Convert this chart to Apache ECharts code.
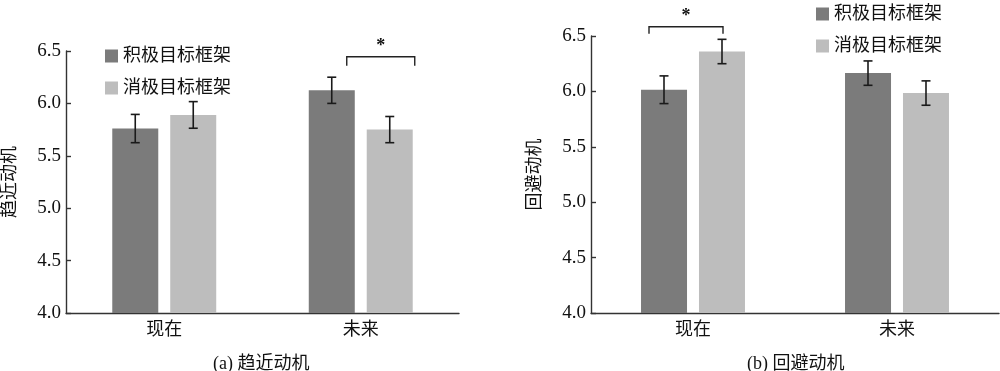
<!DOCTYPE html>
<html><head><meta charset="utf-8">
<script src="https://cdn.jsdelivr.net/npm/echarts@6/dist/echarts.min.js"></script>
<style>html,body{margin:0;padding:0;background:#fff}#c{width:1000px;height:371px}</style>
</head><body><div id="c"></div>
<script>
const categories = ['现在', '未来'];
const seriesNames = ['积极目标框架', '消极目标框架'];
const yTicks = [4.0, 4.5, 5.0, 5.5, 6.0, 6.5];
// (a) 趋近动机
const approachPos = [5.76, 6.125];
const approachPosErr = [0.135, 0.125];
const approachNeg = [5.89, 5.75];
const approachNegErr = [0.127, 0.125];
const approachSig = [[1, 6.445]];
// (b) 回避动机
const avoidPos = [6.015, 6.165];
const avoidPosErr = [0.125, 0.11];
const avoidNeg = [6.36, 5.985];
const avoidNegErr = [0.11, 0.11];
const avoidSig = [[0, 6.583]];

const DARK = '#7b7b7b', LIGHT = '#bdbdbd';
const SERIF = '"Liberation Serif", "Noto Sans CJK SC", serif';
const BAR_W = 46, BAR_OFF = 29;

const chart = echarts.init(document.getElementById('c'), null, {renderer: 'canvas'});

function errData(vals, errs, sign) {
  return vals.map((v, i) => [i, v, errs[i], sign]);
}
function errSeries(idx, vals, errs, sign) {
  return {
    type: 'custom', xAxisIndex: idx, yAxisIndex: idx, z: 5, silent: true,
    data: errData(vals, errs, sign), encode: {x: 0, y: 1},
    renderItem: (params, api) => {
      const c = api.value(0), v = api.value(1), e = api.value(2), s = api.value(3);
      const t = api.coord([c, v + e]), b = api.coord([c, v - e]);
      const x = t[0] + s * BAR_OFF;
      const st = {stroke: '#1a1a1a', lineWidth: 1.6};
      return {type: 'group', children: [
        {type: 'line', shape: {x1: x, y1: t[1], x2: x, y2: b[1]}, style: st},
        {type: 'line', shape: {x1: x - 4.5, y1: t[1], x2: x + 4.5, y2: t[1]}, style: st},
        {type: 'line', shape: {x1: x - 4.5, y1: b[1], x2: x + 4.5, y2: b[1]}, style: st}
      ]};
    }
  };
}
function sigSeries(idx, data, x0, x1, drop) {
  return {
    type: 'custom', xAxisIndex: idx, yAxisIndex: idx, z: 6, silent: true, clip: false,
    data: data, encode: {x: 0, y: 1},
    renderItem: (params, api) => {
      const p = api.coord([api.value(0), api.value(1)]);
      const st = {stroke: '#222', lineWidth: 1.4, fill: null};
      return {type: 'group', children: [
        {type: 'polyline', shape: {points: [[p[0] + x0, p[1] + drop], [p[0] + x0, p[1]], [p[0] + x1, p[1]], [p[0] + x1, p[1] + drop]]}, style: st},
        {type: 'text', x: p[0] + (x0 + x1) / 2, y: p[1] - 1, style: {text: '*', fontSize: 18, fontWeight: 'bold', fontFamily: SERIF, fill: '#111', align: 'center', verticalAlign: 'bottom'}}
      ]};
    }
  };
}
function xAxis(idx) {
  return {
    type: 'category', gridIndex: idx, data: categories, boundaryGap: true,
    axisLine: {lineStyle: {color: '#333', width: 1.4}},
    axisTick: {inside: true, length: 5, lineStyle: {color: '#333', width: 1.4}, interval: 0},
    axisLabel: {margin: 8, fontSize: 18, color: '#111', fontFamily: SERIF}
  };
}
function yAxis(idx, name) {
  return {
    type: 'value', gridIndex: idx, min: yTicks[0], max: yTicks[yTicks.length - 1], interval: 0.5,
    name: name, nameLocation: 'middle', nameGap: 47, nameRotate: 90,
    nameTextStyle: {fontSize: 18, color: '#111', fontFamily: SERIF},
    splitLine: {show: false},
    axisLine: {show: true, lineStyle: {color: '#333', width: 1.4}},
    axisTick: {show: true, inside: true, length: 5, lineStyle: {color: '#333', width: 1.4}},
    axisLabel: {margin: 5, fontSize: 19, color: '#111', fontFamily: SERIF, formatter: v => v.toFixed(1)}
  };
}
function bar(idx, name, vals, color) {
  return {type: 'bar', name: name, xAxisIndex: idx, yAxisIndex: idx, data: vals,
    barWidth: BAR_W, barGap: '26%', itemStyle: {color: color}, z: 2, silent: true};
}
const legendCommon = {
  orient: 'vertical', itemWidth: 13, itemHeight: 13, itemGap: 14, icon: 'rect',
  textStyle: {fontSize: 18, color: '#111', fontFamily: SERIF}, selectedMode: false,
  data: seriesNames
};

chart.setOption({
  animation: false,
  backgroundColor: '#fff',
  title: [
    {text: '(a) 趋近动机', left: 208, top: 350, textStyle: {fontSize: 18, fontWeight: 'normal', color: '#111', fontFamily: SERIF}},
    {text: '(b) 回避动机', left: 742, top: 350, textStyle: {fontSize: 18, fontWeight: 'normal', color: '#111', fontFamily: SERIF}}
  ],
  legend: [
    Object.assign({left: 100, top: 42}, legendCommon),
    Object.assign({left: 811, top: 0}, legendCommon)
  ],
  grid: [
    {left: 57, top: 51, width: 402, height: 262},
    {left: 591, top: 36, width: 408, height: 277}
  ],
  xAxis: [xAxis(0), xAxis(1)],
  yAxis: [yAxis(0, '趋近动机'), yAxis(1, '回避动机')],
  series: [
    bar(0, seriesNames[0], approachPos, DARK),
    bar(0, seriesNames[1], approachNeg, LIGHT),
    bar(1, seriesNames[0], avoidPos, DARK),
    bar(1, seriesNames[1], avoidNeg, LIGHT),
    errSeries(0, approachPos, approachPosErr, -1),
    errSeries(0, approachNeg, approachNegErr, 1),
    errSeries(1, avoidPos, avoidPosErr, -1),
    errSeries(1, avoidNeg, avoidNegErr, 1),
    sigSeries(0, approachSig, -14, 54, 9),
    sigSeries(1, avoidSig, -44, 30, 7)
  ]
});
</script></body></html>
